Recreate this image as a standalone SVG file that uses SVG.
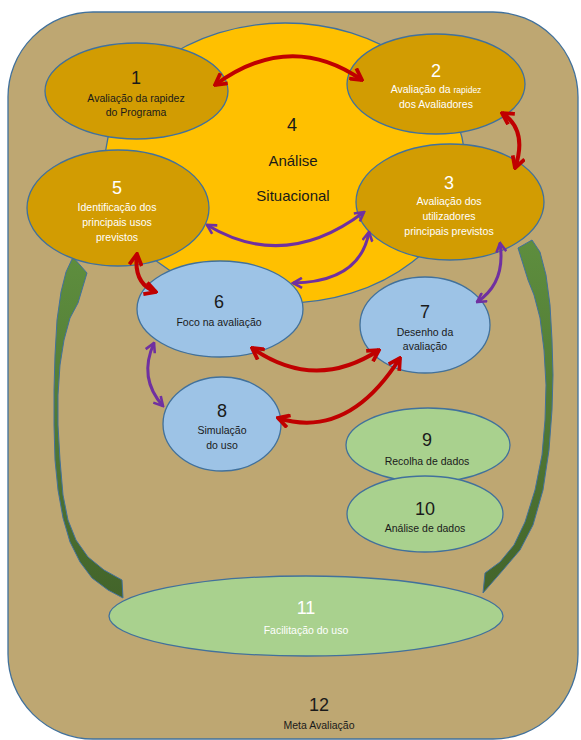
<svg xmlns="http://www.w3.org/2000/svg" width="581" height="740" viewBox="0 0 581 740">
<style>
.bd{stroke:#41719C;stroke-width:1.3}
.gold{fill:#D29C02}
.blue{fill:#9DC3E6}
.green{fill:#A9D18E}
text{font-family:"Liberation Sans",Arial,sans-serif;text-anchor:middle}
.num{font-size:18px}
.lbl{font-size:10.5px}
.dk{fill:#1a1a1a}
.wh{fill:#ffffff}
.red{fill:none;stroke:#C00000;stroke-width:4;marker-start:url(#rh);marker-end:url(#rh)}
.pur{fill:none;stroke:#7030A0;stroke-width:3;marker-start:url(#ph);marker-end:url(#ph)}
.garr{fill:url(#gg);stroke:#41719C;stroke-width:1;stroke-linejoin:round}
</style>
<defs>
<marker id="rh" viewBox="0 0 12 12" refX="10.5" refY="6" markerWidth="15" markerHeight="15" markerUnits="userSpaceOnUse" orient="auto-start-reverse">
<path d="M1.5,1 L10.5,6 L1.5,11" fill="none" stroke="#C00000" stroke-width="3"/>
</marker>
<marker id="ph" viewBox="0 0 12 12" refX="10.5" refY="6" markerWidth="12" markerHeight="12" markerUnits="userSpaceOnUse" orient="auto-start-reverse">
<path d="M1.5,1 L10.5,6 L1.5,11" fill="none" stroke="#7030A0" stroke-width="2.6"/>
</marker>
<linearGradient id="gg" x1="0" y1="0" x2="0" y2="1">
<stop offset="0" stop-color="#5E8E3E"/>
<stop offset="1" stop-color="#43642A"/>
</linearGradient>
</defs>

<g id="node12">
<rect x="8" y="12" width="570" height="727" rx="85" ry="85" fill="#BEA772" class="bd"/>
<text class="num dk" x="319" y="711">12</text>
<text class="lbl dk" x="319" y="729">Meta Avaliação</text>
</g>

<g id="node4">
<ellipse cx="285" cy="163" rx="180" ry="140" fill="#FFC000" class="bd"/>
<text class="num dk" x="292" y="131">4</text>
<text class="dk" x="293" y="166" style="font-size:15px">Análise</text>
<text class="dk" x="293" y="201" style="font-size:15px">Situacional</text>
</g>

<g id="green-arrows">
<path class="garr" d="M73,257 L87,273 L78,303 L70,318 L64,340 L60,365 L58,395 L58,425 L60,460 L63,495 L68,520 L76,540 L88,557 L104,570 L122,580 L123,598 L108,590 L92,578 L80,562 L70,542 L63,518 L58,490 L55,460 L54,425 L54,390 L55,355 L57,320 L61,292 L66,272 Z"/>
<path class="garr" d="M532,240 L540,252 L546,275 L550,305 L552,340 L553,375 L552,410 L549,450 L543,490 L533,525 L520,550 L503,570 L483,593 L485,573 L500,562 L514,545 L525,522 L535,490 L542,455 L545,420 L546,385 L544,350 L540,318 L534,295 L528,280 L518,248 Z"/>
</g>

<g id="node1">
<ellipse cx="136.5" cy="91" rx="91.5" ry="48" class="gold bd"/>
<text class="num dk" x="136" y="84">1</text>
<text class="lbl dk" x="136" y="102">Avaliação da rapidez</text>
<text class="lbl dk" x="136" y="116">do Programa</text>
</g>

<g id="node2">
<ellipse cx="436" cy="84" rx="89" ry="50" class="gold bd"/>
<text class="num wh" x="436" y="77">2</text>
<text class="lbl wh" x="436" y="93">Avaliação da <tspan style="font-size:8.5px">rapidez</tspan></text>
<text class="lbl wh" x="436" y="108">dos Avaliadores</text>
</g>

<g id="node5">
<ellipse cx="118" cy="208" rx="91" ry="58" class="gold bd"/>
<text class="num wh" x="117" y="194">5</text>
<text class="lbl wh" x="117" y="211">Identificação dos</text>
<text class="lbl wh" x="117" y="226">principais usos</text>
<text class="lbl wh" x="117" y="241">previstos</text>
</g>

<g id="node3">
<ellipse cx="450" cy="202" rx="94" ry="58" class="gold bd"/>
<text class="num wh" x="449" y="189">3</text>
<text class="lbl wh" x="449" y="205">Avaliação dos</text>
<text class="lbl wh" x="449" y="220">utilizadores</text>
<text class="lbl wh" x="449" y="235">principais previstos</text>
</g>

<g id="node6">
<ellipse cx="220" cy="309" rx="83" ry="48" class="blue bd"/>
<text class="num dk" x="219" y="308">6</text>
<text class="lbl dk" x="219" y="326">Foco na avaliação</text>
</g>

<g id="node7">
<ellipse cx="425" cy="325" rx="65" ry="48" class="blue bd"/>
<text class="num dk" x="425" y="318">7</text>
<text class="lbl dk" x="425" y="336">Desenho da</text>
<text class="lbl dk" x="425" y="350">avaliação</text>
</g>

<g id="node8">
<ellipse cx="222" cy="424" rx="59" ry="47" class="blue bd"/>
<text class="num dk" x="222" y="417">8</text>
<text class="lbl dk" x="222" y="434">Simulação</text>
<text class="lbl dk" x="222" y="449">do uso</text>
</g>

<g id="node9">
<ellipse cx="428" cy="445" rx="82" ry="37" class="green bd"/>
<text class="num dk" x="427" y="446">9</text>
<text class="lbl dk" x="427" y="465">Recolha de dados</text>
</g>

<g id="node10">
<ellipse cx="425" cy="514" rx="78" ry="38" class="green bd"/>
<text class="num dk" x="425" y="515">10</text>
<text class="lbl dk" x="425" y="532">Análise de dados</text>
</g>

<g id="node11">
<ellipse cx="306" cy="616" rx="197" ry="40" class="green bd"/>
<text class="num wh" x="306" y="614">11</text>
<text class="lbl wh" x="306" y="634">Facilitação do uso</text>
</g>

<g id="connectors">
<path class="red" d="M215,85 Q290,30 362,80"/>
<path class="red" d="M502,113 Q528,130 515,168"/>
<path class="red" d="M137,254 Q133,284 156,292"/>
<path class="red" d="M252,348 Q315,392 379,350"/>
<path class="red" d="M278,418 Q348,440 400,358"/>
<path class="pur" d="M207,225 Q285,272 364,212"/>
<path class="pur" d="M293,283 Q360,282 369,232"/>
<path class="pur" d="M500,243 Q506,283 477,302"/>
<path class="pur" d="M154,343 Q138,378 163,406"/>
</g>
</svg>
